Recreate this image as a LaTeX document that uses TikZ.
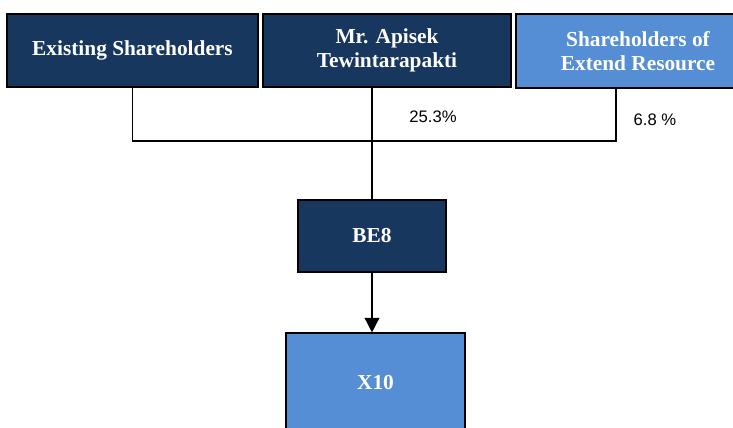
\documentclass[tikz,border=0pt]{standalone}
\usepackage{fontspec}
\setmainfont{Liberation Serif}
\newfontfamily\pctfont{Liberation Sans}
\usetikzlibrary{arrows.meta,calc}
\definecolor{navybox}{HTML}{17375E}
\definecolor{lightbox}{HTML}{558ED5}
\tikzset{
	holder/.style={draw=black, line width=0.8pt, fill=navybox, text=white, align=center,
		font=\bfseries\fontsize{16}{18}\selectfont, inner sep=0pt},
	subsid/.style={holder, fill=lightbox},
	link/.style={line width=1.1pt},
	pct/.style={font=\pctfont\fontsize{12.5}{14}\selectfont}
}

\begin{document}
\begin{tikzpicture}[x=0.75pt, y=-0.75pt]
		%%%%% START %%%%%
		
		\clip (0, 0) rectangle (733, 428);
		\fill[white] (0, 0) rectangle (733, 428);
		
		\node[holder, minimum width=188.25pt, minimum height=54.75pt] (existing) at (132.5, 50.5) {Existing Shareholders};
		\node[holder, minimum width=186pt, minimum height=54.75pt] (apisek) at (387, 50.5) {Mr. Apisek\\Tewintarapakti};
		\node[subsid, minimum width=183pt, minimum height=55.5pt] (extend) at (638, 51) {Shareholders of\\Extend Resource};
		
		\node[holder, minimum width=111pt, minimum height=54pt] (be8) at (372, 236) {BE8};
		\node[subsid, minimum width=134.25pt, minimum height=75pt] (x10) at (375.5, 383) {X10};
		
		\coordinate (join) at (372, 141);
		
		\draw[link] (existing.south) |- (join) -| ([xshift=-16.5pt]extend.south);
		\draw[link] (be8.north) -- (be8.north |- apisek.south);
		\draw[link, -{Triangle[width=11pt, length=11pt]}] (be8.south) -- (be8.south |- x10.north);
		
		\node[pct] (pctapisek) at (433, 117) {25.3\%};
		\node[pct] (pctextend) at (655, 120) {6.8 \%};
		
		%%%%% END %%%%%
	\end{tikzpicture}
\end{document}
